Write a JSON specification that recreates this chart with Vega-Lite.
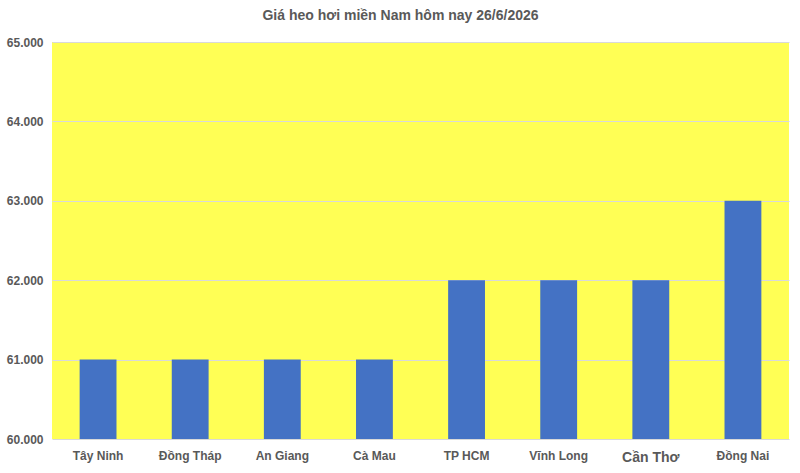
{
  "$schema": "https://vega.github.io/schema/vega-lite/v6.json",
  "autosize": "none",
  "width": 737,
  "height": 397,
  "padding": {"left": 52, "top": 42, "right": 11, "bottom": 34},
  "background": "#ffffff",
  "title": {
    "text": "Giá heo hơi miền Nam hôm nay 26/6/2026",
    "font": "Liberation Sans",
    "fontSize": 14,
    "fontWeight": "bold",
    "color": "#595959",
    "anchor": "middle",
    "dx": -20,
    "offset": 13
  },
  "data": {
    "values": [
      {"tinh": "Tây Ninh", "gia": 61000},
      {"tinh": "Đồng Tháp", "gia": 61000},
      {"tinh": "An Giang", "gia": 61000},
      {"tinh": "Cà Mau", "gia": 61000},
      {"tinh": "TP HCM", "gia": 62000},
      {"tinh": "Vĩnh Long", "gia": 62000},
      {"tinh": "Cần Thơ", "gia": 62000},
      {"tinh": "Đồng Nai", "gia": 63000}
    ]
  },
  "mark": {"type": "bar", "color": "#4472C4", "clip": true},
  "encoding": {
    "x": {
      "field": "tinh",
      "type": "nominal",
      "sort": null,
      "title": null,
      "scale": {"paddingInner": 0.6, "paddingOuter": 0.3},
      "axis": {
        "labelAngle": 0,
        "domain": false,
        "ticks": false,
        "labelPadding": 11,
        "labelFont": "Liberation Sans",
        "labelFontWeight": "bold",
        "labelFontSize": {"condition": {"test": "datum.value === 'Cần Thơ'", "value": 14}, "value": 12},
        "labelColor": "#595959"
      }
    },
    "y": {
      "field": "gia",
      "type": "quantitative",
      "title": null,
      "scale": {"domain": [60000, 65000], "zero": false, "nice": false},
      "axis": {
        "values": [60000, 61000, 62000, 63000, 64000, 65000],
        "labelExpr": "replace(format(datum.value, ','), ',', '.')",
        "domain": false,
        "ticks": false,
        "labelPadding": 9,
        "labelFont": "Liberation Sans",
        "labelFontWeight": "bold",
        "labelFontSize": 12,
        "labelColor": "#595959",
        "gridColor": "#d9d9d9",
        "gridWidth": 1
      }
    }
  },
  "config": {
    "view": {"fill": "#FFFF55", "stroke": null}
  }
}
